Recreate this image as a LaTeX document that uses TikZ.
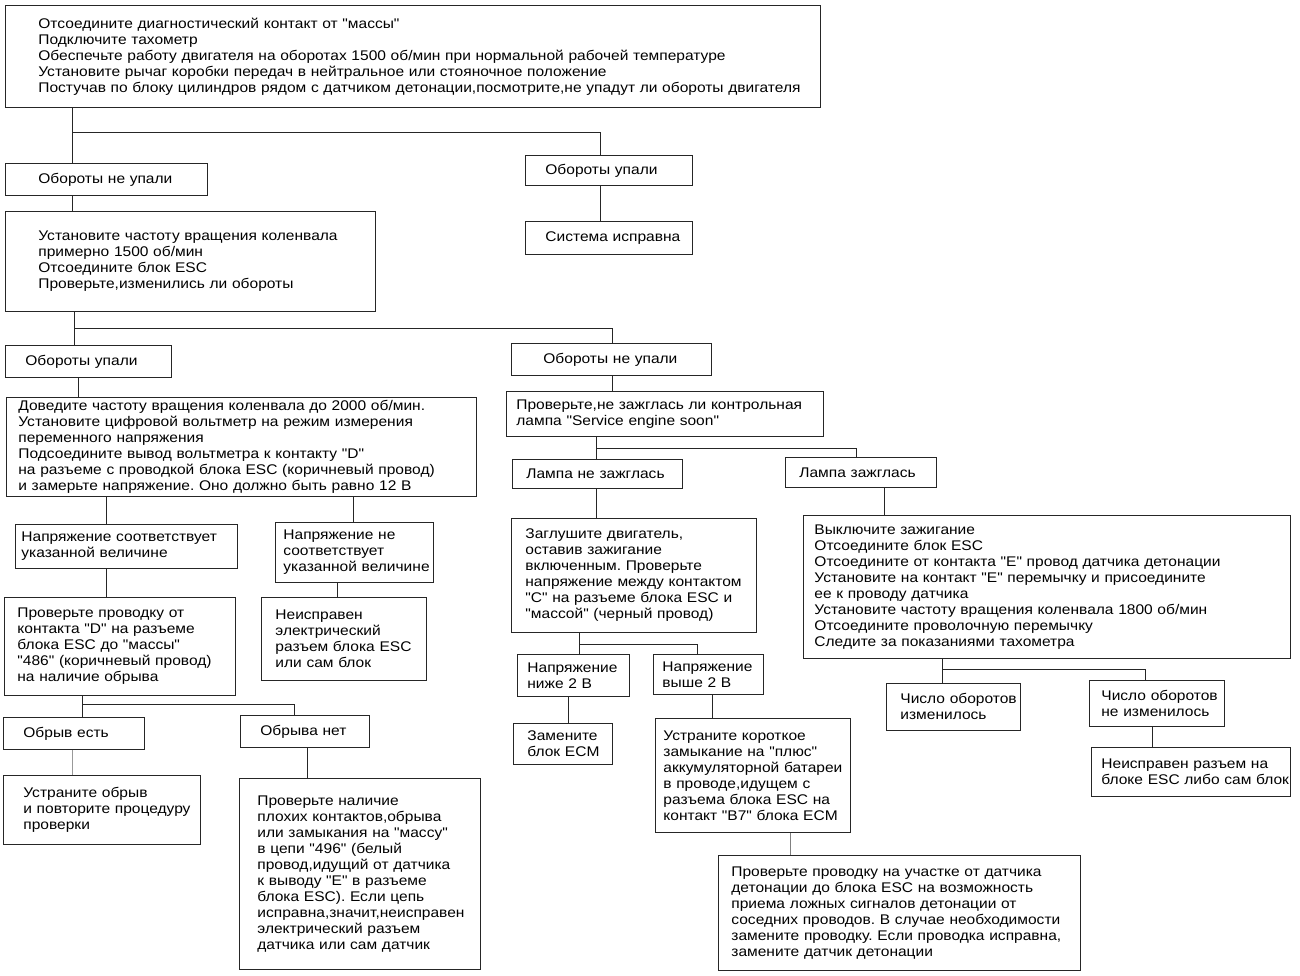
\documentclass[tikz,border=0pt]{standalone}
\usepackage{fontspec}
\setmainfont[FakeStretch=1.11, Ligatures=TeXOff]{Liberation Sans}
\usepackage{tikz}

\tikzset{
	box/.style={draw=black!85, line width=0.8pt, anchor=north west, align=left,
		inner xsep=0pt, inner ysep=0pt, font=\fontsize{14}{16}\selectfont},
	pad/.style={execute at begin node={\frenchspacing\leftskip=#1pt\rightskip=-80pt plus 1fil\relax}},
	wire/.style={draw=black!85, line width=0.8pt},
}

\begin{document}
\begin{tikzpicture}[x=1pt, y=-1pt]

\fill[white] (0,0) rectangle (1300,975);
\useasboundingbox (0,0) rectangle (1300,975);

\node[box, pad=33, text width=815, minimum height=102] (top) at (5,5) {%
Отсоедините диагностический контакт от "массы"\\
Подключите тахометр\\
Обеспечьте работу двигателя на оборотах 1500 об/мин при нормальной рабочей температуре\\
Установите рычаг коробки передач в нейтральное или стояночное положение\\
Постучав по блоку цилиндров рядом с  датчиком детонации,посмотрите,не упадут ли обороты двигателя};

\node[box, pad=33, text width=202, minimum height=32] (nefall1) at (5,163) {Обороты не упали};
\node[box, pad=20, text width=167, minimum height=30] (fall1) at (525,155) {Обороты упали};
\node[box, pad=20, text width=167, minimum height=33] (ok) at (525,221) {Система исправна};

\node[box, pad=33, text width=370, minimum height=100] (esc) at (5,211) {%
Установите частоту вращения коленвала\\
примерно 1500 об/мин\\
Отсоедините блок ESC\\
Проверьте,изменились ли обороты};

\node[box, pad=20, text width=166, minimum height=32] (fall2) at (5,345) {Обороты упали};
\node[box, pad=32, text width=200, minimum height=32] (nefall2) at (511,343) {Обороты не упали};

\node[box, pad=12, text width=470, minimum height=99] (volt) at (6,397) {%
Доведите частоту вращения коленвала до 2000 об/мин.\\
Установите цифровой вольтметр на режим измерения\\
переменного напряжения\\
Подсоедините вывод вольтметра к контакту "D"\\
на разъеме с  проводкой блока ESC (коричневый провод)\\
и замерьте напряжение. Оно должно быть равно 12 В};

\node[box, pad=10, text width=317, minimum height=45] (lamp) at (506,391) {%
Проверьте,не зажглась ли контрольная\\
лампа "Service engine soon"};

\node[box, pad=14, text width=170, minimum height=29] (lampoff) at (512,459) {Лампа не зажглась};
\node[box, pad=14, text width=151, minimum height=30] (lampon) at (785,457) {Лампа зажглась};

% left branch
\node[box, pad=6, text width=222, minimum height=44] (vok) at (15,524) {%
Напряжение соответствует\\
указанной величине};
\node[box, pad=8, text width=158, minimum height=60] (vbad) at (275,522) {%
Напряжение не\\
соответствует\\
указанной величине};

\node[box, pad=13, text width=231, minimum height=98] (wire) at (4,597) {%
Проверьте проводку от\\
контакта "D" на разъеме\\
блока ESC до "массы"\\
"486" (коричневый провод)\\
на наличие обрыва};
\node[box, pad=14, text width=165, minimum height=83] (plug) at (261,597) {%
Неисправен\\
электрический\\
разъем блока ESC\\
или сам блок};

\node[box, pad=20, text width=141, minimum height=32] (brk) at (3,717) {Обрыв есть};
\node[box, pad=20, text width=129, minimum height=32] (nobrk) at (240,715) {Обрыва нет};

\node[box, pad=20, text width=197, minimum height=69] (fix) at (3,775) {%
Устраните обрыв\\
и повторите процедуру\\
проверки};
\node[box, pad=18, text width=241, minimum height=191] (contacts) at (239,778) {%
Проверьте наличие\\
плохих контактов,обрыва\\
или замыкания на "массу"\\
в цепи "496" (белый\\
провод,идущий от датчика\\
к выводу "E" в разъеме\\
блока ESC). Если цепь\\
исправна,значит,неисправен\\
электрический разъем\\
датчика или сам датчик};

% middle branch
\node[box, pad=14, text width=245, minimum height=114] (stop) at (511,518) {%
Заглушите двигатель,\\
оставив зажигание\\
включенным. Проверьте\\
напряжение между контактом\\
"C" на разъеме блока ESC и\\
"массой" (черный провод)};

\node[box, pad=10, text width=112, minimum height=42] (low) at (517,654) {%
Напряжение\\
ниже 2 В};
\node[box, pad=9, text width=110, minimum height=40] (high) at (653,654) {%
Напряжение\\
выше 2 В};

\node[box, pad=14, text width=99, minimum height=41] (ecm) at (513,723) {%
Замените\\
блок ECM};
\node[box, pad=8, text width=195, minimum height=114] (short) at (655,718) {%
Устраните короткое\\
замыкание на "плюс"\\
аккумуляторной батареи\\
в проводе,идущем с\\
разъема блока ESC на\\
контакт "B7" блока ECM};

\node[box, pad=13, text width=362, minimum height=115] (noise) at (718,855) {%
Проверьте проводку на участке от датчика\\
детонации до блока ESC на возможность\\
приема ложных сигналов детонации от\\
соседних проводов. В случае необходимости\\
замените проводку. Если проводка исправна,\\
замените датчик детонации};

% right branch
\node[box, pad=11, text width=487, minimum height=143] (jump) at (803,515) {%
Выключите зажигание\\
Отсоедините блок ESC\\
Отсоедините от контакта "E" провод датчика детонации\\
Установите на контакт "E" перемычку и присоедините\\
ее к проводу датчика\\
Установите частоту вращения коленвала 1800 об/мин\\
Отсоедините проволочную перемычку\\
Следите за показаниями тахометра};

\node[box, pad=14, text width=134, minimum height=47] (rpmch) at (886,683) {%
Число оборотов\\
изменилось};
\node[box, pad=12, text width=135, minimum height=46] (rpmno) at (1089,680) {%
Число оборотов\\
не изменилось};
\node[box, pad=10, text width=199, minimum height=49] (escbad) at (1091,747) {%
Неисправен разъем на\\
блоке ESC либо сам блок};

% connectors
\coordinate (j1) at (72,132);
\coordinate (j1r) at (600,132);
\draw[wire] (top.south -| j1) -- (nefall1.north -| j1);
\draw[wire] (j1) -- (j1r) -- (fall1.north -| j1r);
\draw[wire] (fall1.south -| j1r) -- (ok.north -| j1r);
\draw[wire] (nefall1.south -| j1) -- (esc.north -| j1);

\coordinate (j2) at (74,328);
\coordinate (j2r) at (612,328);
\coordinate (d1) at (78,0);
\draw[wire] (esc.south -| j2) -- (fall2.north -| j2);
\draw[wire] (j2) -- (j2r) -- (nefall2.north -| j2r);
\draw[wire] (fall2.south -| d1) -- (volt.north -| d1);
\draw[wire] (nefall2.south -| j2r) -- (lamp.north -| j2r);

\coordinate (j3) at (596,448);
\coordinate (j3r) at (856,448);
\coordinate (d3) at (884,0);
\draw[wire] (lamp.south -| j3) -- (lampoff.north -| j3);
\draw[wire] (j3) -- (j3r) -- (lampon.north -| j3r);
\draw[wire] (lampoff.south -| j3) -- (stop.north -| j3);
\draw[wire] (lampon.south -| d3) -- (jump.north -| d3);

\coordinate (v1) at (106,0);
\coordinate (v2) at (353,0);
\coordinate (v3) at (337,0);
\draw[wire] (volt.south -| v1) -- (vok.north -| v1);
\draw[wire] (volt.south -| v2) -- (vbad.north -| v2);
\draw[wire] (vok.south -| v1) -- (wire.north -| v1);
\draw[wire] (vbad.south -| v3) -- (plug.north -| v3);

\coordinate (j4) at (82,704);
\coordinate (j4r) at (294,704);
\coordinate (k1) at (72,0);
\coordinate (k2) at (307,0);
\draw[wire] (wire.south -| j4) -- (brk.north -| j4);
\draw[wire] (j4) -- (j4r) -- (nobrk.north -| j4r);
\draw[wire, black!40] (brk.south -| k1) -- (fix.north -| k1);
\draw[wire] (nobrk.south -| k2) -- (contacts.north -| k2);

\coordinate (j5) at (579,644);
\coordinate (j5r) at (697,644);
\coordinate (m1) at (568,0);
\coordinate (m2) at (712,0);
\coordinate (m3) at (790,0);
\draw[wire] (stop.south -| j5) -- (low.north -| j5);
\draw[wire] (j5) -- (j5r) -- (high.north -| j5r);
\draw[wire] (low.south -| m1) -- (ecm.north -| m1);
\draw[wire] (high.south -| m2) -- (short.north -| m2);
\draw[wire, black!50] (short.south -| m3) -- (noise.north -| m3);

\coordinate (j6) at (942,669);
\coordinate (j6r) at (1145,669);
\coordinate (r1) at (1152,0);
\draw[wire] (jump.south -| j6) -- (rpmch.north -| j6);
\draw[wire] (j6) -- (j6r) -- (rpmno.north -| j6r);
\draw[wire] (rpmno.south -| r1) -- (escbad.north -| r1);

\end{tikzpicture}
\end{document}
